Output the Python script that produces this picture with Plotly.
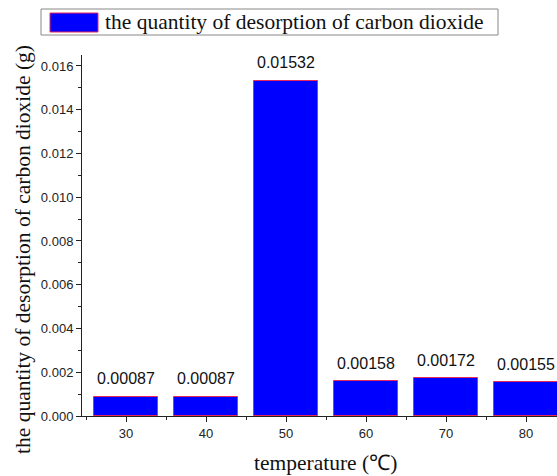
import plotly.graph_objects as go

temperatures = [30, 40, 50, 60, 70, 80]
desorption_g = [0.00087, 0.00087, 0.01532, 0.00158, 0.00172, 0.00155]
value_labels = ["0.00087", "0.00087", "0.01532", "0.00158", "0.00172", "0.00155"]
series_name = "the quantity of desorption of carbon dioxide"
x_title = "temperature (\u2103)"
y_title = "the quantity of desorption of carbon dioxide (g)"

W, H = 557, 476
L, R, T, B = 82, 557, 55, 416  # plot area in px


def px(x):
    return (x - L) / (R - L)


def py(y):
    return (B - y) / (B - T)


fig = go.Figure()
fig.add_trace(go.Bar(
    x=temperatures, y=desorption_g, width=8,
    marker=dict(color="#0000FF", line=dict(color="#E8285A", width=1)),
    name=series_name, showlegend=False,
))

sans = "Liberation Sans, Arial, sans-serif"
serif = "Liberation Serif, serif"

annotations = []
for xv, yv, lab in zip(temperatures, desorption_g, value_labels):
    annotations.append(dict(x=xv, y=yv, xref="x", yref="y", text=lab, showarrow=False,
                            yanchor="middle", yshift=18, font=dict(family=sans, size=16, color="#111")))

annotations.append(dict(x=px(23), y=py(250), xref="paper", yref="paper", text=y_title,
                        textangle=-90, showarrow=False, xanchor="center", yanchor="middle",
                        font=dict(family=serif, size=21.5, color="#111")))
annotations.append(dict(x=px(325), y=py(463), xref="paper", yref="paper", text=x_title,
                        showarrow=False, xanchor="center", yanchor="middle",
                        font=dict(family=serif, size=21.5, color="#111")))
annotations.append(dict(x=px(103), y=py(22), xref="paper", yref="paper", text=series_name,
                        showarrow=False, xanchor="left", yanchor="middle",
                        font=dict(family=serif, size=21.5, color="#111")))

shapes = [
    dict(type="rect", xref="paper", yref="paper", x0=px(41), x1=px(498), y0=py(35), y1=py(9),
         line=dict(color="#888", width=1), fillcolor="white"),
    dict(type="rect", xref="paper", yref="paper", x0=px(50), x1=px(98), y0=py(32), y1=py(13),
         line=dict(color="#E8285A", width=1), fillcolor="#0000FF"),
]

fig.update_layout(
    width=W, height=H,
    margin=dict(l=L, r=W - R, t=T, b=H - B, pad=0),
    paper_bgcolor="white", plot_bgcolor="white",
    annotations=annotations, shapes=shapes,
    bargap=0,
)
fig.update_xaxes(
    range=[24.5, 24.5 + (R - L) / 8.0],
    tickvals=temperatures, ticks="outside", ticklen=5, tickwidth=1, tickcolor="#222",
    showline=True, linecolor="#222", linewidth=1, showgrid=False, zeroline=False,
    tickfont=dict(family=sans, size=13, color="#222"),
    minor=dict(tick0=25, dtick=10, ticks="outside", ticklen=3, tickcolor="#222", showgrid=False),
)
fig.update_yaxes(
    range=[0, 0.0165], dtick=0.002, tick0=0, tickformat=".3f",
    ticks="outside", ticklen=5, tickwidth=1, tickcolor="#222",
    showline=True, linecolor="#222", linewidth=1, showgrid=False, zeroline=False,
    tickfont=dict(family=sans, size=13, color="#222"),
    minor=dict(dtick=0.001, ticks="outside", ticklen=3, tickcolor="#222", showgrid=False),
)

fig.write_html("out.html")
